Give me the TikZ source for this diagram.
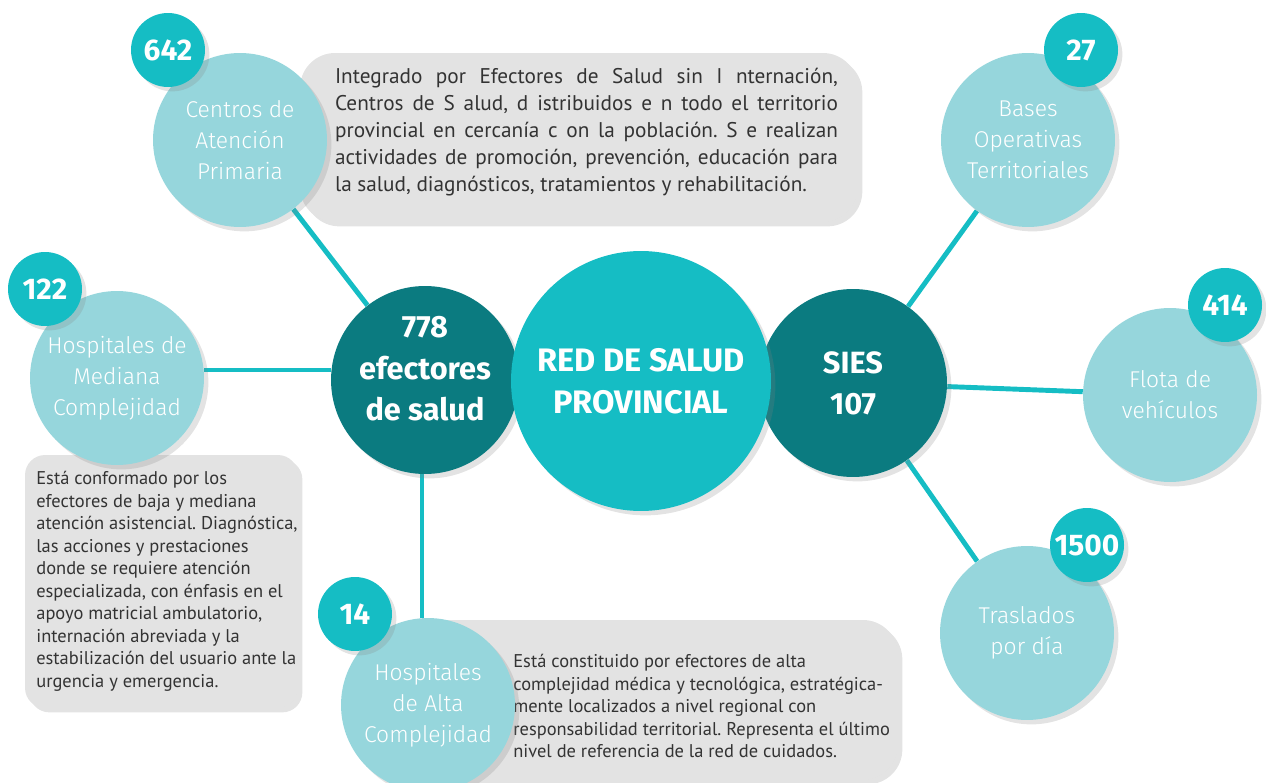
\documentclass[tikz,border=0pt]{standalone}
\usepackage{fontspec}
\setmainfont{PT Sans}
\newfontfamily\lblfont{Fira Sans Light}
\newfontfamily\hdfont{Fira Sans}
\usetikzlibrary{shadows,backgrounds}
\definecolor{cTeal}{HTML}{15BDC4}
\definecolor{cDark}{HTML}{0B7B80}
\definecolor{cLight}{HTML}{96D6DC}
\definecolor{cGray}{HTML}{E3E3E3}
\definecolor{cText}{HTML}{333333}
\frenchspacing
\tikzset{
  softshadow/.style={drop shadow={opacity=0.22, shadow xshift=2.5pt, shadow yshift=-2.5pt}},
  circ/.style={circle, inner sep=0pt, align=center, text=white},
  light/.style={circ, softshadow, fill=cLight, minimum size=3.48cm, font=\lblfont\fontsize{13}{17.6}\selectfont},
  badge/.style={circ, softshadow, fill=cTeal, minimum size=1.48cm, font=\hdfont\bfseries\fontsize{17}{19}\selectfont},
  darkc/.style={circ, softshadow, fill=cDark, minimum size=3.76cm, font=\hdfont\bfseries\fontsize{17.5}{23.5}\selectfont},
  hub/.style={circ, softshadow, fill=cTeal, minimum size=5.2cm, font=\hdfont\bfseries\fontsize{18.5}{24}\selectfont},
  infobox/.style={fill=cGray, softshadow, inner sep=0pt},
  infotext/.style={text=cText, inner sep=0pt},
  link/.style={draw=cTeal, line width=2.8pt},
}
\begin{document}
\begin{tikzpicture}[x=0.02cm, y=-0.02cm]
\useasboundingbox (0,0) rectangle (1266,783);
% information boxes
\node[infobox, rounded corners=0.7cm, minimum width=11.16cm, minimum height=3.38cm] (boxCAP) at (579,137.5) {};
\node[infobox, rounded corners=0.4cm, minimum width=5.46cm, minimum height=5.06cm] (boxHMC) at (161.5,581.5) {};
\node[infobox, rounded corners=0.7cm, minimum width=10.36cm, minimum height=3.2cm] (boxHAC) at (639,700) {};
\node[infotext, text width=10.06cm, align=justify, font=\fontsize{12.1}{15.3}\selectfont] (tCAP) at (586.5,132)
  {Integrado por Efectores de Salud sin I nternación,\linebreak Centros de S alud, d istribuidos e n todo el territorio\linebreak provincial en cercanía c on la población. S e realizan\linebreak actividades de promoción, prevención, educación para\linebreak la salud, diagnósticos, tratamientos y rehabilitación.};
\node[infotext, anchor=west, align=left, font=\fontsize{10.5}{12.8}\selectfont] (tHMC) at (36,581.5)
  {Está conformado por los\\ efectores de baja y mediana\\ atención asistencial. Diagnóstica,\\ las acciones y prestaciones\\ donde se requiere atención\\ especializada, con énfasis en el\\ apoyo matricial ambulatorio,\\ internación abreviada y la\\ estabilización del usuario ante la\\ urgencia y emergencia.};
\node[infotext, anchor=west, align=left, font=\fontsize{10.5}{12.8}\selectfont] (tHAC) at (513,706)
  {Está constituido por efectores de alta\\ complejidad médica y tecnológica, estratégica-\\ mente localizados a nivel regional con\\ responsabilidad territorial. Representa el último\\ nivel de referencia de la red de cuidados.};
% outer circles
\node[light] (cap) at (240,140) {Centros de\\ Atención\\ Primaria};
\node[light] (hmc) at (117,378) {Hospitales de\\ Mediana\\ Complejidad};
\node[light] (hac) at (428,705) {Hospitales\\ de Alta\\ Complejidad};
\node[light] (bot) at (1028,140) {Bases\\ Operativas\\ Territoriales};
\node[light] (flo) at (1170,395) {Flota de\\ vehículos};
\node[light] (tra) at (1027,633) {Traslados\\ por día};
% badges
\node[badge] (b642) at (168,50) {642};
\node[badge] (b122) at (45,289) {122};
\node[badge] (b14) at (355,614) {14};
\node[badge] (b27) at (1081,50) {27};
\node[badge] (b414) at (1225,305) {414};
\node[badge] (b1500) at (1087,545) {1500};
% inner circles
\node[darkc] (d778) at (425,380) {\raisebox{0.18cm}[\height][\depth]{\begin{tabular}{@{}c@{}}778\\ efectores\\ de salud\end{tabular}}};
\node[darkc] (sies) at (853,383) {SIES\\ 107};
\node[hub] (hub) at (641,381) {RED DE SALUD\\ PROVINCIAL};
% connectors
\begin{scope}[on background layer]
\draw[link] (d778) -- (cap);
\draw[link] (d778.west |- 0,370) -- (hmc.east |- 0,370);
\draw[link] (d778.south -| 422,0) -- (hac.north -| 422,0);
\draw[link] (sies) -- (bot);
\draw[link] (sies) -- (flo);
\draw[link] (sies) -- (tra);
\end{scope}
\end{tikzpicture}
\end{document}
